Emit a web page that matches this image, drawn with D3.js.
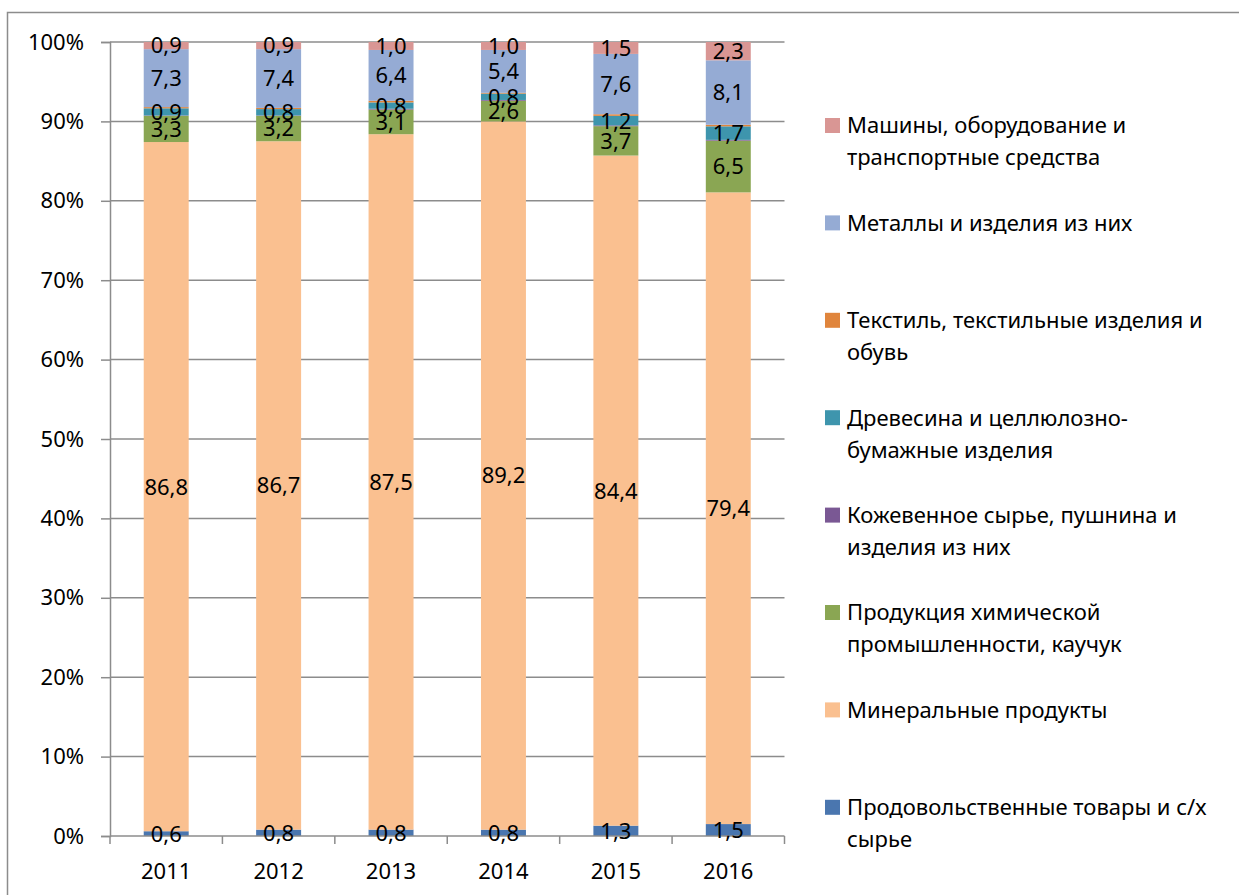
<!DOCTYPE html>
<html><head><meta charset="utf-8">
<script src="https://cdn.jsdelivr.net/npm/d3@7"></script>
<style>body{margin:0;background:#fff}svg{display:block}</style>
</head><body><svg id="c" width="1239" height="895"></svg>
<script>
const years = ["2011","2012","2013","2014","2015","2016"];
const food      = [0.6, 0.8, 0.8, 0.8, 1.3, 1.5];
const minerals  = [86.8, 86.7, 87.5, 89.2, 84.4, 79.4];
const chemicals = [3.3, 3.2, 3.1, 2.6, 3.7, 6.5];
const leather   = [0.05, 0.05, 0.1, 0.1, 0.1, 0.1];
const wood      = [0.9, 0.8, 0.8, 0.8, 1.2, 1.7];
const textile   = [0.15, 0.15, 0.2, 0.1, 0.2, 0.2];
const metals    = [7.3, 7.4, 6.4, 5.4, 7.6, 8.1];
const machines  = [0.9, 0.9, 1.0, 1.0, 1.5, 2.3];
const legendLines = [["Продовольственные товары и с/х","сырье"],["Минеральные продукты"],["Продукция химической","промышленности, каучук"],["Кожевенное сырье, пушнина и","изделия из них"],["Древесина и целлюлозно-","бумажные изделия"],["Текстиль, текстильные изделия и","обувь"],["Металлы и изделия из них"],["Машины, оборудование и","транспортные средства"]];
const seriesValues = [food, minerals, chemicals, leather, wood, textile, metals, machines];
const showLabels = [true,true,true,false,true,false,true,true];
const colors = ["#4a76af","#fac090","#8aa653","#7a5894","#3e95ad","#e0853c","#95abd4","#d99694"];
const yTicks = [0,0.1,0.2,0.3,0.4,0.5,0.6,0.7,0.8,0.9,1.0];

(function(){
const svg = d3.select("#c");
const font = "'Noto Sans', sans-serif";
const pLeft = 110, pRight = 784.5, pTop = 42, pBottom = 836;

// frame
svg.append("path").attr("d","M7.5,895 V12.5 H1239").attr("fill","none").attr("stroke","#8c8c8c").attr("stroke-width",1.5);

const x = d3.scaleBand().domain(years).range([pLeft,pRight]).paddingInner(0.6).paddingOuter(0.3);
const y = d3.scaleLinear().domain([0,1]).range([pBottom,pTop]);

const rows = years.map((yr,i)=>{
  const o = {year:yr};
  const tot = d3.sum(seriesValues, s=>s[i]);
  seriesValues.forEach((s,k)=>{ o["s"+k] = s[i]/tot; o["v"+k]=s[i]; });
  return o;
});
const keys = seriesValues.map((_,k)=>"s"+k);
const stack = d3.stack().keys(keys)(rows);

svg.append("g").selectAll("line").data(yTicks.filter(t=>t>0)).join("line")
  .attr("x1",pLeft).attr("x2",pRight).attr("y1",d=>y(d)).attr("y2",d=>y(d))
  .attr("stroke","#8c8c8c").attr("stroke-width",1.5);

stack.forEach((layer,k)=>{
  svg.append("g").selectAll("rect").data(layer).join("rect")
    .attr("x",d=>x(d.data.year)).attr("width",x.bandwidth())
    .attr("y",d=>y(d[1])).attr("height",d=>y(d[0])-y(d[1]))
    .attr("fill",colors[k]);
});

const yAxis = d3.axisLeft(y).tickValues(yTicks).tickFormat(d=>Math.round(d*100)+"%").tickSize(9).tickPadding(17);
const gy = svg.append("g").attr("transform",`translate(${pLeft},0)`).call(yAxis);
const xAxis = d3.axisBottom(x).tickSize(0).tickPadding(27);
const gx = svg.append("g").attr("transform",`translate(0,${pBottom})`).call(xAxis);
const bounds = d3.range(years.length+1).map(i=>pLeft + i*(pRight-pLeft)/years.length);
svg.append("g").selectAll("line").data(bounds).join("line")
  .attr("x1",d=>d).attr("x2",d=>d).attr("y1",pBottom).attr("y2",pBottom+8)
  .attr("stroke","#8c8c8c").attr("stroke-width",1.5);
[gy,gx].forEach(g=>{
  g.selectAll(".domain").attr("stroke","#8c8c8c").attr("stroke-width",1.5);
  g.selectAll(".tick line").attr("stroke","#8c8c8c").attr("stroke-width",1.5);
  g.selectAll("text").attr("font-family",font).attr("font-size",22).attr("fill","#000");
});
gx.select(".domain").attr("d",`M${pLeft},0H${pRight}`);

stack.forEach((layer,k)=>{
  if(!showLabels[k]) return;
  svg.append("g").selectAll("text").data(layer).join("text")
    .attr("x",d=>x(d.data.year)+x.bandwidth()/2)
    .attr("y",d=>(y(d[0])+y(d[1]))/2)
    .attr("dy","0.36em")
    .attr("text-anchor","middle")
    .attr("font-family",font).attr("font-size",22).attr("fill","#000")
    .text(d=>d3.format(".1f")(d.data["v"+k]).replace(".",","));
});

const legY0 = 125.5, legStep = 97.4;
const order = d3.range(seriesValues.length).reverse();
order.forEach((k,i)=>{
  const cy = legY0 + i*legStep;
  const g = svg.append("g");
  g.append("rect").attr("x",825).attr("y",cy-7.5).attr("width",15).attr("height",15).attr("fill",colors[k]);
  legendLines[k].forEach((ln,j)=>{
    g.append("text").attr("x",847).attr("y",cy+j*32).attr("dy","0.36em")
      .attr("font-family",font).attr("font-size",22).attr("fill","#000").text(ln);
  });
});
})();
</script></body></html>
